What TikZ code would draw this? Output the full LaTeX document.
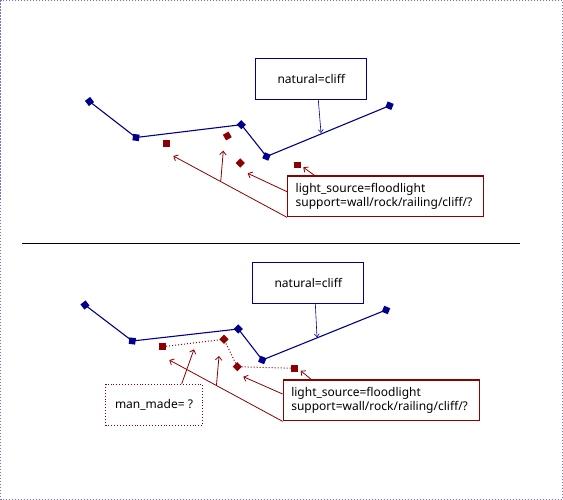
\documentclass[tikz,border=0pt]{standalone}
\usepackage{fontspec}
\setmainfont{Noto Sans}
\usetikzlibrary{calc,arrows.meta}
\definecolor{cblue}{rgb}{0,0,0.55}
\definecolor{cred}{rgb}{0.55,0,0}
\definecolor{cframe}{rgb}{0.45,0.45,0.82}
\tikzset{
  bmark/.style={fill=cblue,draw=none,minimum size=6.5pt,inner sep=0pt,rectangle},
  rmark/.style={fill=cred,draw=none,minimum size=6.5pt,inner sep=0pt,rectangle},
  cliffline/.style={draw=cblue,line width=1.1pt},
  natbox/.style={draw=cblue,line width=0.9pt,minimum width=111pt,minimum height=41pt,inner sep=0pt,font={\fontsize{12}{13.5}\selectfont}},
  lightbox/.style={draw=cred,line width=1.4pt,minimum width=196pt,minimum height=40.7pt,inner xsep=8pt,inner ysep=0pt,align=left,text width=180pt,font={\fontsize{12}{13.5}\selectfont}},
  mmbox/.style={draw=cred,line width=0.9pt,dotted,minimum width=97pt,minimum height=41pt,inner sep=0pt,font={\fontsize{12}{13.5}\selectfont}},
  barrow/.style={draw=cblue,line width=0.6pt,-{Straight Barb[length=3pt,width=5pt]}},
  rarrow/.style={draw=cred,line width=0.8pt,-{Straight Barb[length=3.5pt,width=6.5pt]}},
  rdot/.style={draw=cred,line width=1pt,dotted},
}
\begin{document}
\begin{tikzpicture}[x=1pt,y=-1pt]
\useasboundingbox (0,0) rectangle (563,500);
\draw[cframe,line width=0.8pt,dash pattern=on 1.5pt off 1.5pt] (0.5,0.5) rectangle (562.5,499.5);
\draw[black,line width=1pt] (22,243.7) coordinate (sepL) -- (520,243.7) coordinate (sepR);

% ---------- top panel ----------
\node[bmark,rotate=37] (ta) at (89.5,101.5) {};
\node[bmark,rotate=-7] (tb) at (136,137.5) {};
\node[bmark,rotate=45] (tc) at (241.3,124.7) {};
\node[bmark,rotate=-22] (td) at (266.5,156.5) {};
\node[bmark,rotate=-22] (te) at (389.5,105.7) {};
\draw[cliffline] (ta.center) -- (tb.center) -- (tc.center) -- (td.center) -- (te.center);

\node[rmark] (tr1) at (166.7,143.3) {};
\node[rmark,rotate=30] (tr2) at (227.3,136) {};
\node[rmark,rotate=45] (tr3) at (240.3,163) {};
\node[rmark] (tr4) at (297.7,165) {};

\node[natbox] (tnat) at (311.3,78.8) {natural=cliff};
\coordinate (tnatend) at (321,133);
\draw[barrow] ($(tnat.south)+(7,0)$) -- (tnatend);

\node[lightbox] (tlight) at (385.7,196.3) {light\_source=floodlight\\support=wall/rock/railing/cliff/?};
\coordinate (ta1) at (173.3,156);
\coordinate (ta2) at (223.3,150.7);
\coordinate (ta3) at (247.7,173.3);
\coordinate (ta4) at (303.3,167.3);
\draw[rarrow] (tlight.south west) -- (ta1);
\draw[rarrow] ($(tlight.south west)!0.583!(ta1)$) -- (ta2);
\draw[rarrow] ($(tlight.west)+(0,-4.6)$) -- (ta3);
\draw[rarrow] ($(tlight.north west)+(27.3,0)$) -- (ta4);

% ---------- bottom panel ----------
\node[bmark,rotate=37] (ba) at (85,305) {};
\node[bmark,rotate=-7] (bb) at (132.3,341) {};
\node[bmark,rotate=45] (bc) at (238.3,329) {};
\node[bmark,rotate=-22] (bd) at (262.3,360) {};
\node[bmark,rotate=-22] (be) at (386,310) {};
\draw[cliffline] (ba.center) -- (bb.center) -- (bc.center) -- (bd.center) -- (be.center);

\node[rmark] (br1) at (162.7,346.7) {};
\node[rmark,rotate=45] (br2) at (224,339.3) {};
\node[rmark,rotate=45] (br3) at (237.3,366.7) {};
\node[rmark] (br4) at (294.7,368.3) {};
\draw[rdot] (br1) -- (br2.center) -- (br3.center) -- (br4);

\node[natbox] (bnat) at (308.3,282.5) {natural=cliff};
\coordinate (bnatend) at (317,337.3);
\draw[barrow] ($(bnat.south)+(7,0)$) -- (bnatend);

\node[lightbox] (blight) at (381.3,400.3) {light\_source=floodlight\\support=wall/rock/railing/cliff/?};
\coordinate (ba1) at (169.3,360);
\coordinate (ba2) at (219,356);
\coordinate (ba3) at (243.3,376.7);
\coordinate (ba4) at (300.7,370.7);
\draw[rarrow] (blight.south west) -- (ba1);
\draw[rarrow] ($(blight.south west)!0.584!(ba1)$) -- (ba2);
\draw[rarrow] ($(blight.west)+(0,-6.3)$) -- (ba3);
\draw[rarrow] ($(blight.north west)+(28.4,0)$) -- (ba4);

\node[mmbox] (mm) at (154,404.7) {man\_made= ?};
\coordinate (mmend) at (194,349.3);
\draw[rarrow] ($(mm.north)+(27.7,0)$) -- (mmend);
\end{tikzpicture}
\end{document}
